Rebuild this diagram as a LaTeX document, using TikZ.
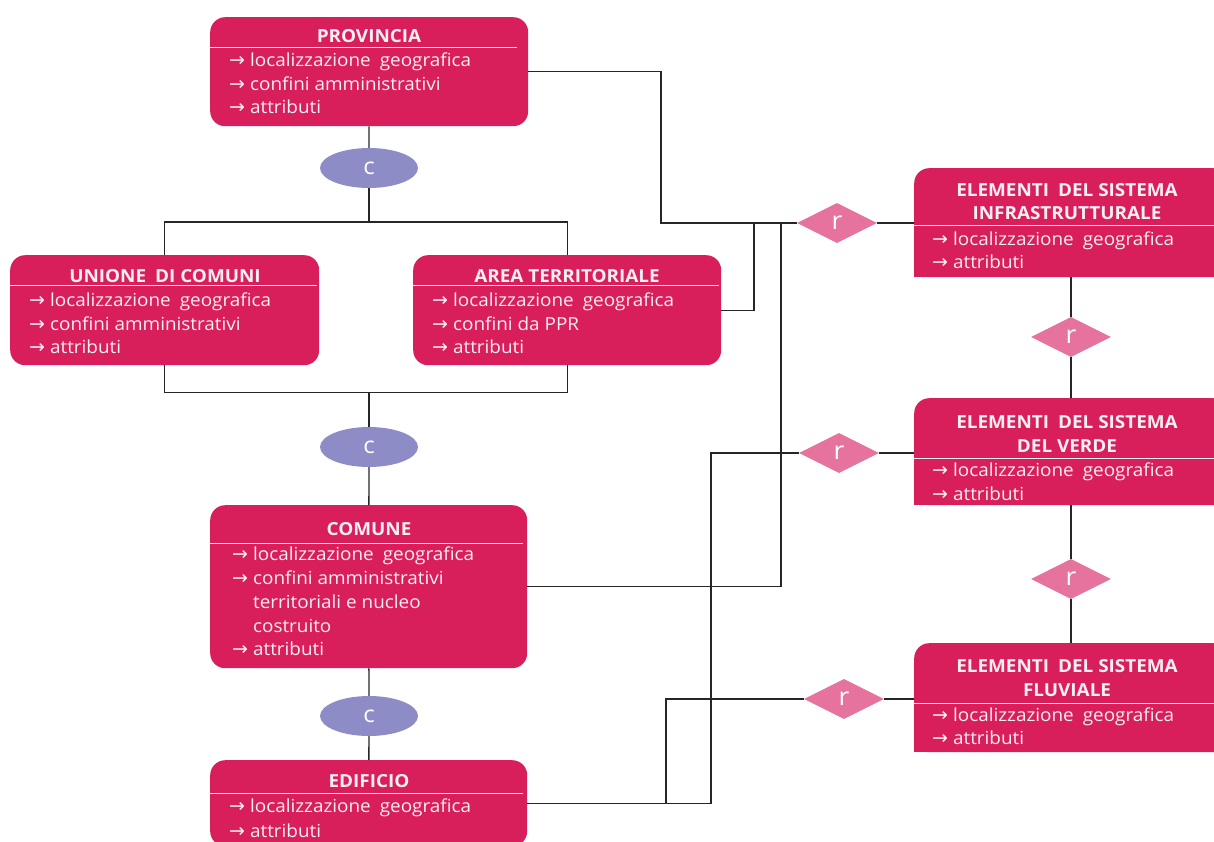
\documentclass[tikz,border=0pt]{standalone}
\usepackage{fontspec}
\setmainfont{Open Sans}[Ligatures=NoCommon, FakeStretch=1.05]
\newfontfamily\arrowfont{DejaVu Sans}
\usetikzlibrary{shapes.geometric}
\definecolor{boxred}{HTML}{D81F5B}
\definecolor{lav}{HTML}{8E8CC6}
\definecolor{dpink}{HTML}{E5739D}
\definecolor{txtw}{HTML}{FBEFF3}
\newcommand\myarr{{\arrowfont\fontsize{19}{19}\selectfont →}\hspace{5pt}}
\newcommand\gap{\hspace{0.5em}}
\begin{document}
\begin{tikzpicture}[x=1pt,y=-1pt,
 box/.style={rectangle, rounded corners=15pt, fill=boxred, inner sep=0pt, anchor=north west},
 ttl/.style={text=txtw, font=\fontsize{18}{20}\selectfont\bfseries, anchor=base, inner sep=0pt},
 txt/.style={text=txtw, font=\fontsize{18}{20}\selectfont, anchor=base west, inner sep=0pt, yshift=-2pt},
 sepl/.style={draw=txtw, line width=1pt},
 conn/.style={draw=black!85, line width=1.3pt},
 cnode/.style={ellipse, fill=lav, minimum width=98pt, minimum height=40pt, inner sep=0pt, text=white, font=\fontsize{23}{23}\selectfont},
 rnode/.style={diamond, fill=dpink, minimum width=80pt, minimum height=40pt, inner sep=0pt, text=white, font=\fontsize{25}{25}\selectfont}
]
\useasboundingbox (0,0) rectangle (1214,842);

\coordinate (k1) at (661,223);
\coordinate (k2) at (754,223);
\coordinate (k3) at (781,223);
\coordinate (k4) at (711,453);
\coordinate (k5) at (666,699);
\coordinate (j1) at (369,222);
\coordinate (j2) at (369,392);

% ---------- boxes ----------
\node[box, minimum width=318pt, minimum height=109pt] (prov) at (210,17) {};
\node[box, minimum width=309pt, minimum height=110pt] (unione) at (10,255) {};
\node[box, minimum width=308pt, minimum height=110pt] (area) at (413,255) {};
\node[box, minimum width=317pt, minimum height=163pt] (comune) at (210,505) {};
\node[box, minimum width=317pt, minimum height=86pt] (edif) at (210,760) {};
\node[box, minimum width=314pt, minimum height=109pt] (infra) at (914,168) {};
\node[box, minimum width=314pt, minimum height=107pt] (verde) at (914,398) {};
\node[box, minimum width=314pt, minimum height=109pt] (fluv) at (914,643) {};
\fill[boxred] (infra.south west) rectangle ++(20,-20);
\fill[boxred] (verde.south west) rectangle ++(20,-20);
\fill[boxred] (fluv.south west) rectangle ++(20,-20);

% ---------- connector nodes ----------
\node[cnode] (c1) at (369,168) {c};
\node[cnode] (c2) at (369,447) {c};
\node[cnode] (c3) at (369,716) {c};
\node[rnode] (r1) at (837,223) {r};
\node[rnode] (r2) at (839,453) {r};
\node[rnode] (r3) at (844,699) {r};
\node[rnode] (r4) at (1071,337) {r};
\node[rnode] (r5) at (1071,579) {r};

% ---------- lines ----------
\draw[conn] (prov) -- (c1);
\draw[conn] (c1) -- (j1);
\draw[conn] (unione.north) -- ++(0,-33) -| (area.north);
\draw[conn] (unione.south) -- ++(0,27) -| (area.south);
\draw[conn] (j2) -- (c2);
\draw[conn] (c2) -- (comune);
\draw[conn] (comune) -- (c3);
\draw[conn] (c3) -- (edif);
\draw[conn] (prov.east) -| (k1) -- (r1);
\draw[conn] (area.east) -| (k2);
\draw[conn] (comune.east) -| (k3);
\draw[conn] (edif.east) -| (k4) -- (r2);
\draw[conn] (edif.east) -| (k5) -- (r3);
\draw[conn] (r1) -- (r1 -| infra.west);
\draw[conn] (r2) -- (r2 -| verde.west);
\draw[conn] (r3) -- (r3 -| fluv.west);
\draw[conn] (infra.south -| r4) -- (r4);
\draw[conn] (r4) -- (verde.north -| r4);
\draw[conn] (verde.south -| r5) -- (r5);
\draw[conn] (r5) -- (fluv.north -| r5);

% ---------- texts: PROVINCIA ----------
\node[ttl] (provt) at (369,43) {PROVINCIA};
\draw[sepl] (210,48) -- (517,48);
\node[txt] (prov1) at (229,65) {\myarr localizzazione\gap geografica};
\node[txt] (prov2) at (229,89) {\myarr confini amministrativi};
\node[txt] (prov3) at (229,112) {\myarr attributi};

% ---------- UNIONE ----------
\node[ttl] (uniont) at (165,282) {UNIONE\gap DI COMUNI};
\draw[sepl] (10,285) -- (317,285);
\node[txt] (union1) at (29,304) {\myarr localizzazione\gap geografica};
\node[txt] (union2) at (29,328) {\myarr confini amministrativi};
\node[txt] (union3) at (29,351) {\myarr attributi};

% ---------- AREA ----------
\node[ttl] (areat) at (567,282) {AREA TERRITORIALE};
\draw[sepl] (413,285) -- (719,285);
\node[txt] (area1) at (432,304) {\myarr localizzazione\gap geografica};
\node[txt] (area2) at (432,328) {\myarr confini da PPR};
\node[txt] (area3) at (432,351) {\myarr attributi};

% ---------- COMUNE ----------
\node[ttl] (comunet) at (369,535) {COMUNE};
\draw[sepl] (210,543) -- (523,543);
\node[txt] (com1) at (232,558) {\myarr localizzazione\gap geografica};
\node[txt] (com2) at (232,582) {\myarr confini amministrativi};
\node[txt] (com3) at (232,606) {\phantom{\myarr}territoriali e nucleo};
\node[txt] (com4) at (232,630) {\phantom{\myarr}costruito};
\node[txt] (com5) at (232,653) {\myarr attributi};

% ---------- EDIFICIO ----------
\node[ttl] (edift) at (369,787) {EDIFICIO};
\draw[sepl] (210,793) -- (523,793);
\node[txt] (edif1) at (229,810) {\myarr localizzazione\gap geografica};
\node[txt] (edif2) at (229,835) {\myarr attributi};

% ---------- INFRA ----------
\node[ttl] (infrat1) at (1067,197) {ELEMENTI\gap DEL SISTEMA};
\node[ttl] (infrat2) at (1067,220) {INFRASTRUTTURALE};
\draw[sepl] (914,226) -- (1214,226);
\node[txt] (infra1) at (932,243) {\myarr localizzazione\gap geografica};
\node[txt] (infra2) at (932,267) {\myarr attributi};

% ---------- VERDE ----------
\node[ttl] (verdet1) at (1067,428) {ELEMENTI\gap DEL SISTEMA};
\node[ttl] (verdet2) at (1067,452) {DEL VERDE};
\draw[sepl] (914,458) -- (1214,458);
\node[txt] (verde1) at (932,474) {\myarr localizzazione\gap geografica};
\node[txt] (verde2) at (932,498) {\myarr attributi};

% ---------- FLUVIALE ----------
\node[ttl] (fluvt1) at (1067,672) {ELEMENTI\gap DEL SISTEMA};
\node[ttl] (fluvt2) at (1067,696) {FLUVIALE};
\draw[sepl] (914,703) -- (1214,703);
\node[txt] (fluv1) at (932,719) {\myarr localizzazione\gap geografica};
\node[txt] (fluv2) at (932,742) {\myarr attributi};
\end{tikzpicture}
\end{document}
